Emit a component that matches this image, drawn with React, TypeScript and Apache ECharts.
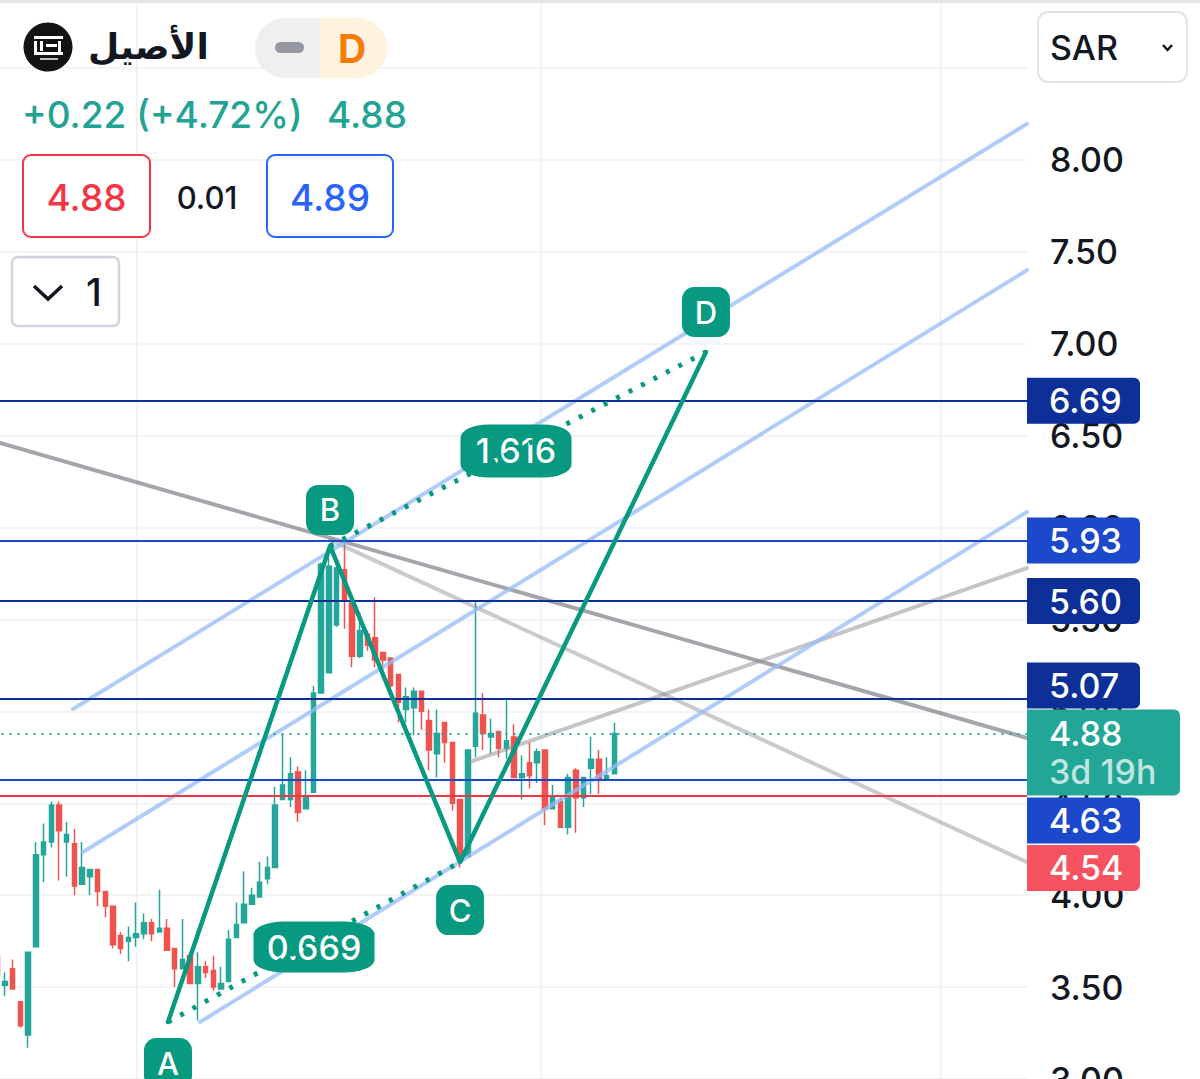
import React, { useEffect, useRef } from 'react';
import * as echarts from 'echarts';

// ---------- data ----------
const TOTAL_SLOTS = 134; // daily slots visible on the time axis (candles + right-hand blank space)
const slotLabels = Array.from({ length: TOTAL_SLOTS }, (_, i) => `d${i}`);

// [open, close, low, high]
const candles: number[][] = [
  [3.67, 3.56, 3.43, 3.70],
  [3.51, 3.53, 3.45, 3.58],
  [3.60, 3.49, 3.49, 3.65],
  [3.42, 3.29, 3.28, 3.42],
  [3.24, 3.69, 3.17, 3.69],
  [3.72, 4.22, 3.72, 4.29],
  [4.22, 4.29, 4.07, 4.39],
  [4.29, 4.49, 4.26, 4.51],
  [4.49, 4.35, 4.08, 4.51],
  [4.29, 4.33, 4.10, 4.40],
  [4.28, 4.05, 4.00, 4.36],
  [4.06, 4.15, 4.06, 4.29],
  [4.10, 4.14, 4.00, 4.14],
  [4.14, 4.02, 3.94, 4.14],
  [4.02, 3.94, 3.88, 4.02],
  [3.94, 3.73, 3.71, 3.94],
  [3.78, 3.71, 3.68, 3.80],
  [3.75, 3.77, 3.64, 3.83],
  [3.77, 3.79, 3.72, 3.96],
  [3.79, 3.85, 3.76, 3.90],
  [3.85, 3.79, 3.75, 3.87],
  [3.80, 3.82, 3.80, 4.03],
  [3.82, 3.70, 3.70, 3.87],
  [3.71, 3.60, 3.50, 3.71],
  [3.60, 3.65, 3.60, 3.87],
  [3.67, 3.52, 3.52, 3.69],
  [3.52, 3.61, 3.32, 3.69],
  [3.61, 3.58, 3.55, 3.64],
  [3.59, 3.50, 3.48, 3.67],
  [3.49, 3.52, 3.49, 3.61],
  [3.53, 3.76, 3.53, 3.81],
  [3.77, 3.84, 3.77, 3.96],
  [3.85, 3.95, 3.85, 4.13],
  [3.95, 4.00, 3.95, 4.04],
  [3.99, 4.07, 3.99, 4.18],
  [4.09, 4.15, 4.06, 4.21],
  [4.15, 4.49, 4.15, 4.59],
  [4.52, 4.60, 4.52, 4.88],
  [4.52, 4.66, 4.48, 4.75],
  [4.67, 4.45, 4.40, 4.70],
  [4.47, 4.53, 4.47, 4.68],
  [4.56, 5.10, 4.56, 5.14],
  [5.10, 5.80, 5.10, 5.81],
  [5.21, 5.79, 5.21, 5.89],
  [5.47, 5.78, 5.46, 5.79],
  [5.77, 5.60, 5.45, 5.93],
  [5.59, 5.30, 5.24, 5.59],
  [5.30, 5.44, 5.29, 5.54],
  [5.42, 5.36, 5.33, 5.44],
  [5.40, 5.28, 5.24, 5.62],
  [5.32, 5.28, 5.20, 5.32],
  [5.29, 5.14, 5.13, 5.29],
  [5.20, 5.05, 4.94, 5.20],
  [5.01, 5.08, 4.94, 5.13],
  [5.02, 5.11, 4.87, 5.13],
  [5.11, 5.00, 4.90, 5.11],
  [4.95, 4.79, 4.68, 5.01],
  [4.77, 4.88, 4.64, 5.01],
  [4.94, 4.83, 4.72, 4.94],
  [4.83, 4.50, 4.46, 4.83],
  [4.52, 4.19, 4.15, 4.52],
  [4.21, 4.79, 4.21, 4.79],
  [4.81, 4.99, 4.75, 5.60],
  [4.98, 4.88, 4.79, 5.10],
  [4.86, 4.88, 4.77, 4.96],
  [4.89, 4.80, 4.75, 4.89],
  [4.80, 4.84, 4.74, 5.06],
  [4.86, 4.64, 4.64, 4.93],
  [4.64, 4.66, 4.52, 4.76],
  [4.72, 4.65, 4.58, 4.83],
  [4.72, 4.78, 4.61, 4.80],
  [4.79, 4.47, 4.38, 4.79],
  [4.47, 4.53, 4.47, 4.60],
  [4.51, 4.37, 4.37, 4.53],
  [4.37, 4.64, 4.33, 4.66],
  [4.68, 4.53, 4.34, 4.69],
  [4.53, 4.64, 4.48, 4.64],
  [4.69, 4.74, 4.55, 4.86],
  [4.74, 4.63, 4.55, 4.79],
  [4.63, 4.65, 4.63, 4.75],
  [4.66, 4.88, 4.66, 4.94],
];

const priceTicksMin = 3.0;
const priceTicksMax = 8.87;
const priceTickStep = 0.5;

const levelPrices = [6.69, 5.93, 5.60, 5.07, 4.63];
const stopPrice = 4.54;
const lastPrice = 4.88;
const lastPriceCountdown = '3d 19h';

// vertical time grid (slot positions of month boundaries)
const monthGridSlots = [18.1, 70.5, 122.3];

// XABCD-style pattern points (slot, price)
const patternNames = ['A', 'B', 'C', 'D'];
const patternSlot = [22.13, 43.14, 60.0, 91.88];
const patternPrice = [3.31, 5.90, 4.18, 6.955];
const ratioLabels = ['0.669', '1.616'];

// parallel channel (slot, price) pairs
const channelLines = [
  [[9.82, 5.013], [133.5, 8.196]],
  [[11.11, 4.235], [133.5, 7.40]],
  [[26.28, 3.31], [133.5, 6.085]],
];
// grey trend lines
const greyLines = [
  [[0.35, 6.46], [133.5, 4.855]],
  [[43.14, 5.933], [133.5, 4.18]],
  [[61.29, 4.725], [133.5, 5.78]],
];

// header texts
const symbolName = 'الأصيل';
const changeText = '+0.22 (+4.72%)';
const bidPrice = '4.88';
const spreadText = '0.01';
const askPrice = '4.89';
const currency = 'SAR';

// ---------- styles ----------
const FONT = 'Inter, "Noto Sans", sans-serif';
const UP = '#26a69a';
const DOWN = '#ef5350';
const PATTERN = '#089981';
const levelColors = ['#0d2f98', '#1c49cc', '#0d2f98', '#0d2f98', '#1c49cc'];
const levelBadgeOffset = [0, 0, 0, -13, 41];

function buildOption(): any {
  const badge = (bg: string, dy: number) => ({
    show: true,
    position: 'end',
    distance: 0,
    offset: [0, dy],
    backgroundColor: bg,
    color: '#ffffff',
    fontSize: 34,
    fontWeight: 500,
    fontFamily: FONT,
    lineHeight: 32,
    padding: [7, 10, 7, 22],
    width: 81,
    borderRadius: [0, 6, 6, 0],
  });

  const markLineData: any[] = levelPrices.map((p, i) => ({
    yAxis: p,
    lineStyle: { color: levelColors[i], width: 2, type: 'solid' },
    label: { ...badge(levelColors[i], levelBadgeOffset[i]), formatter: p.toFixed(2) },
  }));
  markLineData.push({
    yAxis: stopPrice,
    lineStyle: { color: '#f23645', width: 2, type: 'solid' },
    label: { ...badge('#f7525f', 72), formatter: stopPrice.toFixed(2) },
  });
  markLineData.push({
    yAxis: lastPrice,
    lineStyle: { color: UP, width: 2, type: [2, 6] },
    label: {
      show: true,
      position: 'end',
      distance: 0,
      offset: [0, 19],
      backgroundColor: '#22a696',
      padding: [5, 10, 5, 22],
      width: 121,
      borderRadius: [0, 6, 6, 0],
      formatter: `{a|${lastPrice.toFixed(2)}}\n{b|${lastPriceCountdown}}`,
      rich: {
        a: { color: '#ffffff', fontSize: 34, fontWeight: 500, fontFamily: FONT, lineHeight: 38 },
        b: { color: 'rgba(255,255,255,0.72)', fontSize: 34, fontWeight: 500, fontFamily: FONT, lineHeight: 38 },
      },
    },
  });

  const seg = (pts: number[][], color: string, width: number, z = 4, dash: any = 'solid') => ({
    type: 'line',
    xAxisIndex: 1,
    yAxisIndex: 0,
    data: pts,
    symbol: 'none',
    silent: true,
    z,
    lineStyle: { color, width, type: dash, cap: 'round' },
  });

  const series: any[] = [];
  monthGridSlots.forEach((s) => {
    series.push(seg([[s, priceTicksMin - 1], [s, priceTicksMax + 1]], '#eef0f3', 1.5, 0));
  });

  series.push({
    type: 'candlestick',
    xAxisIndex: 0,
    yAxisIndex: 0,
    data: candles,
    barWidth: 5,
    z: 2,
    itemStyle: { color: UP, color0: DOWN, borderColor: UP, borderColor0: DOWN, borderWidth: 1.5 },
    markLine: {
      silent: true,
      symbol: ['none', 'none'],
      animation: false,
      data: markLineData,
    },
  });

  const greyColors = ['rgba(105,107,115,0.6)', 'rgba(140,140,145,0.45)', 'rgba(140,140,145,0.5)'];
  greyLines.forEach((l, i) => series.push(seg(l, greyColors[i], 4, 3)));
  channelLines.forEach((l) => series.push(seg(l, 'rgba(150,188,248,0.75)', 4, 3)));

  const pts = patternSlot.map((s, i) => [s, patternPrice[i]]);
  const letterOffsets = [41, -36, 48, -40];
  series.push({
    ...seg(pts, PATTERN, 4, 5),
    lineStyle: { color: PATTERN, width: 4.5, join: 'round', cap: 'round' },
    markPoint: {
      symbol: 'roundRect',
      symbolSize: [48, 50],
      silent: true,
      animation: false,
      itemStyle: { color: PATTERN },
      label: { show: true, color: '#ffffff', fontSize: 31, fontWeight: 500, fontFamily: FONT, formatter: (p: any) => p.name },
      data: patternNames.map((n, i) => ({ name: n, coord: pts[i], symbolOffset: [0, letterOffsets[i]] })),
    },
  });

  const dotted = [
    [pts[0], pts[2]],
    [pts[1], pts[3]],
  ];
  const ratioSizes = [[121, 51], [111, 53]];
  const ratioOffsets = [[0, 5], [-2, 2]];
  dotted.forEach((d, i) => {
    series.push({
      ...seg(d, PATTERN, 5, 5, [4, 10]),
      lineStyle: { color: PATTERN, width: 5, type: [4, 10], cap: 'butt' },
      markPoint: {
        symbol: 'roundRect',
        symbolSize: ratioSizes[i],
        silent: true,
        animation: false,
        itemStyle: { color: PATTERN },
        label: { show: true, color: '#ffffff', fontSize: 34, fontWeight: 500, fontFamily: FONT, formatter: (p: any) => p.name },
        data: [
          {
            name: ratioLabels[i],
            coord: [(d[0][0] + d[1][0]) / 2, (d[0][1] + d[1][1]) / 2],
            symbolOffset: ratioOffsets[i],
          },
        ],
      },
    });
  });

  const txt = (text: string, x: number, y: number, size: number, fill: string, extra: any = {}) => ({
    type: 'text',
    z: 100,
    silent: true,
    style: { text, x, y, fill, fontSize: size, fontWeight: 500, fontFamily: FONT, align: 'left', verticalAlign: 'middle', ...extra },
  });
  const box = (x: number, y: number, w: number, h: number, stroke: string, r: any = 8, lw = 2) => ({
    type: 'rect',
    z: 99,
    silent: true,
    shape: { x, y, width: w, height: h, r },
    style: { fill: '#ffffff', stroke, lineWidth: lw },
  });

  const graphic: any[] = [
    { type: 'line', z: 98, silent: true, shape: { x1: 0, y1: 1.5, x2: 1200, y2: 1.5 }, style: { stroke: '#e3e5ea', lineWidth: 3 } },
    // logo
    { type: 'circle', z: 100, silent: true, shape: { cx: 48, cy: 47, r: 24.5 }, style: { fill: '#131313' } },
    { type: 'rect', z: 101, silent: true, shape: { x: 34, y: 36, width: 29, height: 3 }, style: { fill: '#fff' } },
    { type: 'rect', z: 101, silent: true, shape: { x: 34, y: 41, width: 3, height: 13 }, style: { fill: '#fff' } },
    { type: 'rect', z: 101, silent: true, shape: { x: 40, y: 41, width: 3, height: 10 }, style: { fill: '#fff' } },
    { type: 'rect', z: 101, silent: true, shape: { x: 46, y: 44, width: 11, height: 3 }, style: { fill: '#fff' } },
    { type: 'rect', z: 101, silent: true, shape: { x: 58, y: 41, width: 3, height: 13 }, style: { fill: '#fff' } },
    { type: 'rect', z: 101, silent: true, shape: { x: 34, y: 52, width: 29, height: 3 }, style: { fill: '#fff' } },
    { type: 'rect', z: 101, silent: true, shape: { x: 40, y: 58, width: 18, height: 2 }, style: { fill: '#bbb' } },
    txt(symbolName, 88, 46, 36, '#131722', { fontWeight: 'bold', fontFamily: '"DejaVu Sans", "Noto Sans", sans-serif' }),
    // interval pill
    { type: 'rect', z: 99, silent: true, shape: { x: 255, y: 18, width: 132, height: 60, r: 30 }, style: { fill: '#efeff1' } },
    { type: 'rect', z: 100, silent: true, shape: { x: 320, y: 18, width: 67, height: 60, r: [0, 30, 30, 0] }, style: { fill: '#fff3e0' } },
    { type: 'rect', z: 101, silent: true, shape: { x: 275, y: 42, width: 29, height: 11, r: 5.5 }, style: { fill: '#9598a1' } },
    txt('D', 352, 48, 39, '#f57c00', { align: 'center', fontWeight: 'bold' }),
    // change line
    txt(changeText, 22, 114, 37, '#22a393'),
    txt(bidPrice, 327, 114, 37, '#22a393'),
    // bid / ask
    box(23, 155, 127, 82, '#f23645'),
    txt(bidPrice, 86.5, 197, 37, '#f23645', { align: 'center' }),
    txt(spreadText, 207, 197, 31, '#131722', { align: 'center' }),
    box(267, 155, 126, 82, '#2962ff'),
    txt(askPrice, 330, 197, 37, '#2962ff', { align: 'center' }),
    // collapse
    box(12, 257, 107, 69, '#d1d4dc', 6, 2.5),
    { type: 'polyline', z: 101, silent: true, shape: { points: [[34, 286], [48, 299], [62, 286]] }, style: { stroke: '#131722', lineWidth: 3.5, fill: null } },
    txt('1', 94, 292, 38, '#131722', { align: 'center' }),
    // currency
    box(1038, 12, 149, 70, '#e0e3eb', 10, 2),
    txt(currency, 1050, 47, 34, '#131722'),
    { type: 'polyline', z: 101, silent: true, shape: { points: [[1163, 45], [1167.5, 50], [1172, 45]] }, style: { stroke: '#131722', lineWidth: 2.5, fill: null } },
  ];

  return {
    animation: false,
    backgroundColor: '#ffffff',
    grid: { left: -6.56, right: 173, top: 0, bottom: 0, containLabel: false, outerBoundsMode: 'none' },
    xAxis: [
      { type: 'category', data: slotLabels, show: false, boundaryGap: true, gridIndex: 0 },
      { type: 'value', min: -0.5, max: TOTAL_SLOTS - 0.5, show: false, gridIndex: 0 },
    ],
    yAxis: {
      type: 'value',
      position: 'right',
      min: priceTicksMin,
      max: priceTicksMax,
      interval: priceTickStep,
      axisLine: { show: true, lineStyle: { color: '#dfe1e6', width: 3 } },
      axisTick: { show: false },
      splitLine: { show: true, lineStyle: { color: '#f0f1f4', width: 1.5 } },
      axisLabel: {
        margin: 23,
        fontSize: 34,
        fontWeight: 500,
        color: '#131722',
        fontFamily: FONT,
        showMaxLabel: false,
        showMinLabel: true,
        formatter: (v: number) => v.toFixed(2),
      },
    },
    series,
    graphic,
  };
}

export default function App() {
  const ref = useRef<HTMLDivElement>(null);
  useEffect(() => {
    const chart = echarts.init(ref.current!, null, { renderer: 'svg' });
    chart.setOption(buildOption());
    return () => chart.dispose();
  }, []);
  return (
    <div
      ref={ref}
      style={{ position: 'fixed', left: 0, top: 0, width: 1200, height: 1079, background: '#ffffff' }}
    />
  );
}
